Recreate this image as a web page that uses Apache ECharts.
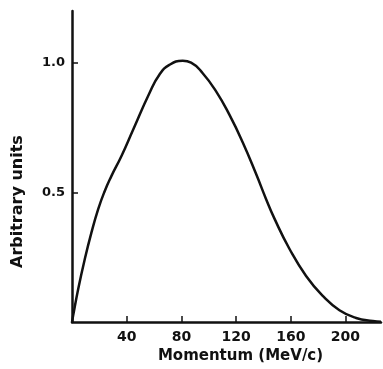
<!DOCTYPE html>
<html>
<head>
<meta charset="utf-8">
<script src="https://cdn.jsdelivr.net/npm/echarts@6/dist/echarts.min.js"></script>
<style>html,body{margin:0;padding:0;background:#fff;}#c{width:383px;height:369px;}</style>
</head>
<body>
<div id="c"></div>
<script>
var momentum = [0, 0.8, 4.5, 9.3, 14.2, 19.1, 23.9, 28.8, 36.1, 44.7, 56.6, 63.9, 71.2, 81, 87.1, 95.6, 105.4, 115.1, 124.9, 134.6, 141.9, 148, 159, 171.2, 183.4, 195.6, 207.8, 220, 226];
var intensity = [0, 0.024, 0.127, 0.242, 0.345, 0.435, 0.505, 0.563, 0.64, 0.742, 0.883, 0.954, 0.992, 1.008, 1.001, 0.96, 0.89, 0.8, 0.693, 0.572, 0.475, 0.4, 0.283, 0.178, 0.101, 0.046, 0.016, 0.004, 0.001];
var xTicks = [40, 80, 120, 160, 200];
var yTicks = ['0.5', '1.0'];

var points = momentum.map(function (m, i) { return [m, intensity[i]]; });
var font = 'DejaVu Sans';
var chart = echarts.init(document.getElementById('c'), null, {renderer: 'canvas'});
chart.setOption({
  animation: false,
  backgroundColor: '#fff',
  grid: {left: 72, right: 2, top: 11, bottom: 46},
  xAxis: {
    type: 'value', min: 0, max: 226, interval: 40,
    name: 'Momentum (MeV/c)', nameLocation: 'middle', nameGap: 26,
    nameTextStyle: {fontFamily: font, fontWeight: 'bold', fontSize: 15, color: '#111', padding: [0, 0, 0, 28]},
    axisLine: {lineStyle: {color: '#111', width: 2.5}},
    axisTick: {inside: true, length: 6, lineStyle: {color: '#111', width: 1.5}},
    axisLabel: {
      fontFamily: font, fontWeight: 'bold', fontSize: 14, color: '#111', margin: 8,
      showMinLabel: false, showMaxLabel: false,
      formatter: function (v) { return xTicks.indexOf(v) >= 0 ? String(v) : ''; }
    },
    splitLine: {show: false}
  },
  yAxis: {
    type: 'value', min: 0, max: 1.2, interval: 0.5,
    name: 'Arbitrary units', nameLocation: 'middle', nameGap: 46, nameRotate: 90,
    nameTextStyle: {fontFamily: font, fontWeight: 'bold', fontSize: 16, color: '#111', padding: [0, 70, 0, 0]},
    axisLine: {show: true, lineStyle: {color: '#111', width: 2.5}},
    axisTick: {show: true, inside: true, length: 6, lineStyle: {color: '#111', width: 1.5}},
    axisLabel: {
      fontFamily: font, fontWeight: 'bold', fontSize: 13, color: '#111', margin: 7,
      showMinLabel: false, showMaxLabel: false,
      formatter: function (v) { var s = v.toFixed(1); return yTicks.indexOf(s) >= 0 ? s : ''; }
    },
    splitLine: {show: false}
  },
  series: [{
    type: 'line', data: points, smooth: 0.5, showSymbol: false,
    lineStyle: {color: '#111', width: 2.5}
  }]
});
</script>
</body>
</html>
